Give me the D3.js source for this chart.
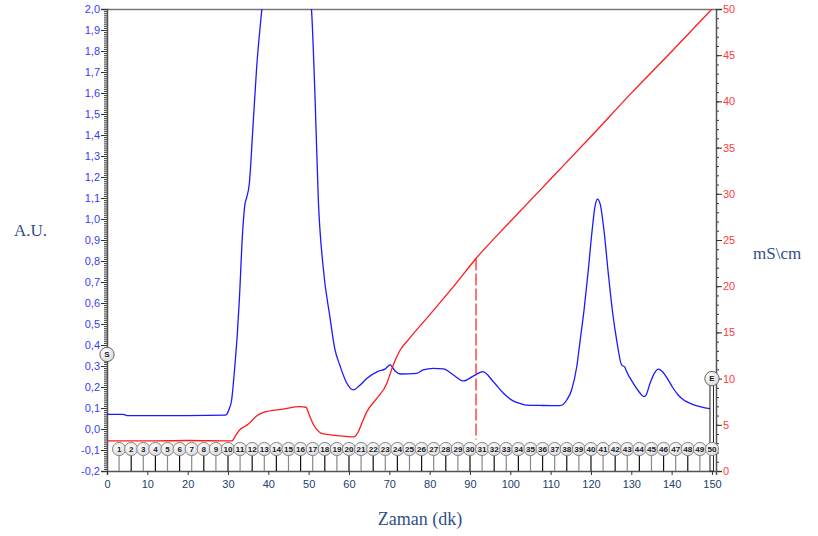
<!DOCTYPE html>
<html>
<head>
<meta charset="utf-8">
<script src="https://cdn.jsdelivr.net/npm/d3@7"></script>
<style>
  body { margin: 0; background: #fff; }
  svg { display: block; }
</style>
</head>
<body>
<div id="chart"></div>
<script>
// absorbance trace (A.U.) vs time (dk)
const blueTime = [0, 4, 5, 20, 29.3, 29.7, 30.2, 30.9, 31.7, 32.3, 32.8, 33.6, 34.2, 34.6, 35.3, 36.1, 37.1, 38.4, 40, 44, 48, 50.2, 50.7,
  51.6, 52.4, 53.6, 55.3, 56.5, 57.8, 59.4, 61.1, 62.5, 64.4, 67.3, 68.9, 70.2, 71.5, 72.7, 76.8, 78.4, 80.9, 83.4, 85.9, 88.4,
  90.8, 93.2, 95.8, 98.3, 100.8, 102.4, 104.1, 108, 112.3, 114, 115.2, 116.5, 117.3, 118.3, 119.3, 120.2, 121.0, 121.6, 122.3,
  123.2, 124.3, 125.4, 126.4, 127.6, 128.0, 128.4, 128.7, 130.5, 132, 133, 133.6, 134.6, 135.7, 136.7, 137.6, 138.8, 140.2,
  141.6, 143, 144.6, 147, 150];
const blueValue = [0.07, 0.07, 0.064, 0.064, 0.066, 0.07, 0.09, 0.138, 0.30, 0.45, 0.61, 0.93, 1.07, 1.10, 1.17, 1.41, 1.72, 2.0, 2.3, 2.6, 2.4, 2.1, 2.0,
  1.57, 1.09, 0.77, 0.53, 0.38, 0.30, 0.22, 0.186, 0.205, 0.24, 0.276, 0.285, 0.305, 0.275, 0.262, 0.265, 0.281, 0.289, 0.286, 0.257, 0.229,
  0.252, 0.273, 0.225, 0.17, 0.133, 0.122, 0.114, 0.112, 0.111, 0.138, 0.186, 0.30, 0.42, 0.57, 0.75, 0.93, 1.06, 1.095, 1.07,
  0.95, 0.74, 0.55, 0.42, 0.305, 0.30, 0.295, 0.28, 0.217, 0.175, 0.155, 0.16, 0.215, 0.265, 0.285, 0.275, 0.245, 0.20,
  0.162, 0.138, 0.122, 0.106, 0.094];

// conductivity trace (mS\cm)
const redTime = [0, 10, 20, 30.9, 32, 33, 33.8, 35.0, 36, 37.1, 38.8, 43.7, 47.9, 49.3, 50.3, 51.2, 52, 53, 54.5, 57.8, 61.1, 61.6,
  62.3, 63.3, 64.4, 66.9, 69.4, 70.2, 71.0, 72.7, 74.7, 80, 86, 91.5, 100, 110, 120, 130, 140, 150];
const redValue = [3.25, 3.25, 3.3, 3.25, 3.9, 4.5, 4.73, 5.05, 5.5, 5.95, 6.35, 6.7, 6.96, 6.9, 5.9, 5.0, 4.5, 4.1, 3.97, 3.8, 3.7, 3.8,
  4.25, 5.3, 6.4, 7.85, 9.5, 10.5, 11.5, 13.1, 14.2, 16.9, 20.0, 23.0, 27.0, 31.6, 36.2, 40.9, 45.4, 50];

// fraction collector marks
const fractions = d3.range(1, 51);
const fractionStep = 3;
const markerS = { t: 0, v: 0.355 };
const markerE = { t: 150, v: 0.24 };
const dashLine = { t: 91.5, from: 23.0, to: 3.4 };

const xTicks = d3.range(0, 151, 10);
const leftTicks = d3.range(-2, 21).map(d => d / 10);
const rightTicks = d3.range(0, 51, 5);

const W = 818, H = 536;
const PLOT = { LEFT: 107, RIGHT: 716, TOP: 9, BOTTOM: 471 };

const svg = d3.select("#chart").append("svg")
  .attr("width", W).attr("height", H)
  .style("font-family", "Arial, 'Liberation Sans', sans-serif");

const x = d3.scaleLinear().domain([0, 151]).range([PLOT.LEFT, PLOT.RIGHT]);
const yL = d3.scaleLinear().domain([-0.2, 2.0]).range([PLOT.BOTTOM, PLOT.TOP]);
const yR = d3.scaleLinear().domain([0, 50]).range([PLOT.BOTTOM, PLOT.TOP]);

svg.append("clipPath").attr("id", "clip")
  .append("rect")
  .attr("x", PLOT.LEFT).attr("y", PLOT.TOP)
  .attr("width", PLOT.RIGHT - PLOT.LEFT).attr("height", PLOT.BOTTOM - PLOT.TOP);

// top frame line
svg.append("line")
  .attr("x1", PLOT.LEFT).attr("x2", PLOT.RIGHT)
  .attr("y1", PLOT.TOP + 0.5).attr("y2", PLOT.TOP + 0.5)
  .attr("stroke", "#777").attr("stroke-width", 1.5);

// left axis
const leftMinor = d3.range(-20, 201).map(d => d / 100);
const gl = svg.append("g").attr("transform", `translate(${PLOT.LEFT},0)`);
gl.call(d3.axisLeft(yL).tickValues(leftMinor).tickSize(3).tickFormat(""));
gl.call(g => g.selectAll(".tick line").attr("stroke", "#333"));
gl.select(".domain").remove();
const gl2 = svg.append("g").attr("transform", `translate(${PLOT.LEFT},0)`);
gl2.call(d3.axisLeft(yL).tickValues(leftTicks).tickSize(6).tickPadding(1)
  .tickFormat(d => d3.format(".1f")(d).replace(".", ",").replace("−", "-")));
gl2.select(".domain").attr("stroke", "#555").attr("stroke-width", 1.5);
gl2.selectAll(".tick line").attr("stroke", "#333");
gl2.selectAll("text").attr("fill", "#3a3aff").style("font-size", "11px");

// right axis
const gr = svg.append("g").attr("transform", `translate(${PLOT.RIGHT},0)`);
gr.call(d3.axisRight(yR).tickValues(d3.range(0, 51)).tickSize(3).tickFormat(""));
gr.select(".domain").remove();
gr.selectAll(".tick line").attr("stroke", "#333");
const gr2 = svg.append("g").attr("transform", `translate(${PLOT.RIGHT},0)`);
gr2.call(d3.axisRight(yR).tickValues(rightTicks).tickSize(6).tickPadding(1));
gr2.select(".domain").attr("stroke", "#555").attr("stroke-width", 1.5);
gr2.selectAll(".tick line").attr("stroke", "#333");
gr2.selectAll("text").attr("fill", "#ff3b3b").style("font-size", "11px");

// bottom axis
const gb = svg.append("g").attr("transform", `translate(0,${PLOT.BOTTOM})`);
gb.call(d3.axisBottom(x).tickValues(xTicks).tickSize(4).tickPadding(5));
gb.select(".domain").attr("stroke", "#555").attr("stroke-width", 1.5);
gb.selectAll(".tick line").attr("stroke", "#333");
gb.selectAll("text").attr("fill", "#24406e").style("font-size", "11px");

// fraction lollipops
const fy = 449;
const fr = svg.append("g");
fr.selectAll("line").data(fractions).join("line")
  .attr("x1", d => x(d * fractionStep)).attr("x2", d => x(d * fractionStep))
  .attr("y1", fy + 6).attr("y2", PLOT.BOTTOM)
  .attr("stroke", (d, i) => i % 2 ? "#111" : "#888").attr("stroke-width", 1.2);

const grad = svg.append("defs").append("radialGradient").attr("id", "fgrad")
  .attr("cx", "40%").attr("cy", "35%").attr("r", "70%");
grad.append("stop").attr("offset", "0%").attr("stop-color", "#ffffff");
grad.append("stop").attr("offset", "100%").attr("stop-color", "#d8d8d8");

// lines
const blueLine = d3.line().curve(d3.curveMonotoneX).x((d, i) => x(blueTime[i])).y(d => yL(d));
svg.append("path").datum(blueValue)
  .attr("clip-path", "url(#clip)")
  .attr("d", blueLine)
  .attr("fill", "none").attr("stroke", "#1a1aff").attr("stroke-width", 1.3);

const redLine = d3.line().curve(d3.curveMonotoneX).x((d, i) => x(redTime[i])).y(d => yR(d));
svg.append("path").datum(redValue)
  .attr("clip-path", "url(#clip)")
  .attr("d", redLine)
  .attr("fill", "none").attr("stroke", "#ff1a1a").attr("stroke-width", 1.3);

svg.append("line")
  .attr("x1", x(dashLine.t)).attr("x2", x(dashLine.t))
  .attr("y1", yR(dashLine.from)).attr("y2", yR(dashLine.to))
  .attr("stroke", "#ff1a1a").attr("stroke-width", 1.2)
  .attr("stroke-dasharray", "12,3");

// E marker stem (behind the fraction circles)
const ex = x(markerE.t);
svg.append("rect")
  .attr("x", ex - 2).attr("y", yL(markerE.v))
  .attr("width", 3.5).attr("height", PLOT.BOTTOM - yL(markerE.v))
  .attr("fill", "#fff").attr("stroke", "#222").attr("stroke-width", 1);

const fc = svg.append("g").selectAll("g").data(fractions).join("g")
  .attr("transform", d => `translate(${x(d * fractionStep)},${fy})`);
fc.append("circle").attr("r", 6.6)
  .attr("fill", "url(#fgrad)").attr("stroke", "#888").attr("stroke-width", 1);
fc.append("text").text(d => d)
  .attr("text-anchor", "middle").attr("dy", "0.35em")
  .attr("fill", "#1a1a2a").style("font-size", d => d < 10 ? "8px" : "7.5px").style("font-weight", "bold")
  .attr("textLength", d => d < 10 ? null : 9).attr("lengthAdjust", "spacingAndGlyphs");

// S and E markers
[[markerS, "S"], [markerE, "E"]].forEach(([m, lbl]) => {
  const g = svg.append("g").attr("transform", `translate(${x(m.t)},${yL(m.v)})`);
  g.append("circle").attr("r", 7.2).attr("fill", "url(#fgrad)").attr("stroke", "#666").attr("stroke-width", 1);
  g.append("text").text(lbl).attr("text-anchor", "middle").attr("dy", "0.35em")
    .attr("fill", "#1a1a2a").style("font-size", "8px").style("font-weight", "bold");
});

// axis titles
const titleFont = "'Liberation Serif', 'Times New Roman', serif";
svg.append("text").text("A.U.").attr("x", 14).attr("y", 236)
  .style("font-family", titleFont).style("font-size", "17px").attr("fill", "#2f4f8a");
svg.append("text").text("mS\\cm").attr("x", 753).attr("y", 259)
  .style("font-family", titleFont).style("font-size", "17px").attr("fill", "#2f4f8a");
svg.append("text").text("Zaman (dk)").attr("x", 420).attr("y", 525).attr("text-anchor", "middle")
  .style("font-family", titleFont).style("font-size", "18px").attr("fill", "#2f4f8a");
</script>
</body>
</html>
